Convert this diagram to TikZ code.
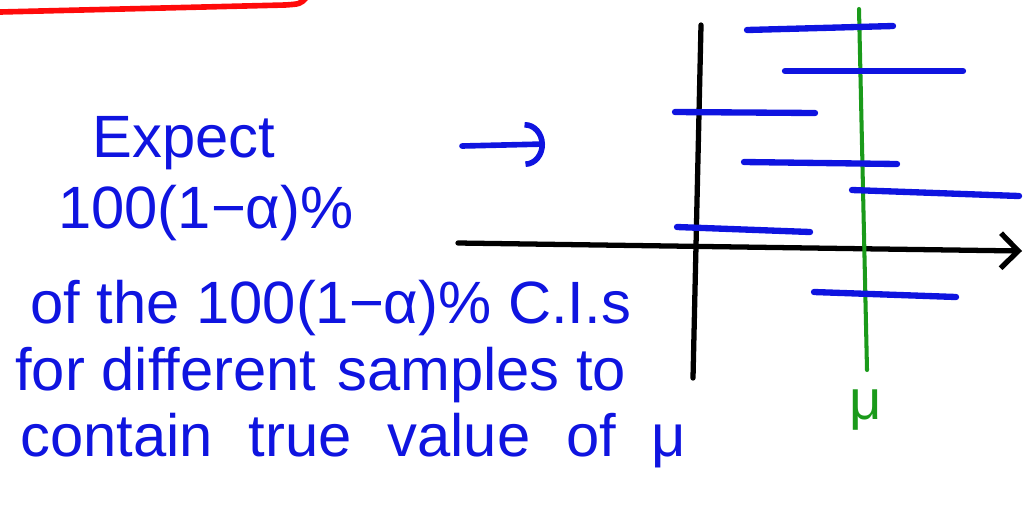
\documentclass[tikz,border=0pt]{standalone}
\usepackage{fontspec}
\setmainfont{Liberation Sans}
\usepackage{tikz}
\usetikzlibrary{arrows.meta}
\definecolor{inkblue}{HTML}{0F14E0}
\definecolor{inkgreen}{HTML}{1A9A1A}
\definecolor{inkred}{HTML}{FF0A0A}

\begin{document}
\begin{tikzpicture}[
  x=0.02cm, y=-0.02cm,
  ink/.style={line cap=round, line join=round},
  interval/.style={ink, draw=inkblue, line width=3.6pt},
  axis/.style={ink, draw=black, line width=3pt},
  truth/.style={ink, draw=inkgreen, line width=2.3pt},
  note/.style={text=inkblue, font=\fontsize{34}{40}\selectfont, anchor=base west, inner sep=0pt},
  truthlabel/.style={text=inkgreen, font=\fontsize{32}{38}\selectfont, inner sep=0pt}
]
\useasboundingbox (0,0) rectangle (1034,522);

% red underline of the heading above
\draw[ink, draw=inkred, line width=3.2pt] (0,12) -- (285,5) .. controls (300,4) .. (306,-2);

% the note
\node[note] (expect) at (92,157) {Expect};
\node[note] (level) at (58,228) {100(1−α)\%};
\node[note] (ofthe) at (30,323) {of the 100(1−α)\% C.I.s};
\node[note] (samples) at (15,390) {for different\hspace{0.35em}samples to};
\node[note] (contain) at (20,456) {contain\hspace{0.6em}true\hspace{0.6em}value\hspace{0.6em}of\hspace{0.6em}μ};

% hand arrow towards the plot
\coordinate (handtail) at (462,146);
\coordinate (handtip) at (545,144);
\draw[ink, draw=inkblue, line width=3.2pt, -{Arc Barb[length=4mm,width=9mm]}] (handtail) -- (handtip);

% axes
\coordinate (xstart) at (458,243);
\coordinate (xend) at (1022,251);
\coordinate (ytop) at (701,25);
\coordinate (ybot) at (693,378);
\draw[axis, -{Straight Barb[length=3.5mm,width=7mm]}] (xstart) -- (xend);
\draw[axis] (ytop) -- (ybot);

% true value
\coordinate (mutop) at (859,9);
\coordinate (mubot) at (867,370);
\draw[truth] (mutop) -- (mubot);
\node[truthlabel] (mu) at (866,410) {μ};

% intervals from different samples
\foreach \xa/\ya/\xb/\yb in {747/30/893/26, 785/71/963/71, 675/112/815/113,
  744/162/897/164, 852/190/1019/196, 677/227/810/232, 814/292/956/297}
  \draw[interval] (\xa,\ya) -- (\xb,\yb);
\end{tikzpicture}
\end{document}
